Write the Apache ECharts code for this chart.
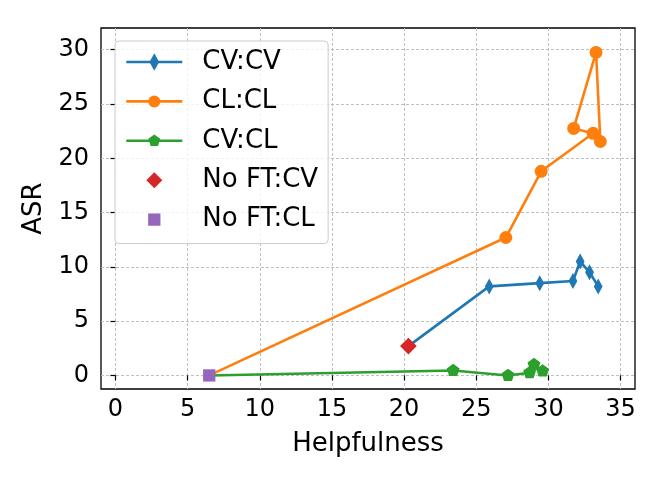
<!DOCTYPE html>
<html><head><meta charset="utf-8">
<script src="https://cdn.jsdelivr.net/npm/echarts@6/dist/echarts.min.js"></script>
<style>html,body{margin:0;padding:0;background:#fff}#c{width:664px;height:483px}</style>
</head><body><div id="c"></div>
<script>
// ---- data ----
const seriesNames = ['CV:CV', 'CL:CL', 'CV:CL', 'No FT:CV', 'No FT:CL'];
const cvcvHelp = [20.3, 25.9, 29.4, 31.7, 32.2, 32.85, 33.45];
const cvcvASR  = [2.7, 8.2, 8.5, 8.7, 10.5, 9.5, 8.2];
const clclHelp = [6.5, 27.05, 29.5, 33.1, 31.75, 33.3, 33.6];
const clclASR  = [0, 12.7, 18.8, 22.3, 22.75, 29.75, 21.55];
const cvclHelp = [6.5, 23.4, 27.2, 28.7, 29.0, 29.6];
const cvclASR  = [0, 0.45, 0, 0.25, 1.0, 0.4];
const noftCvHelp = [20.3];
const noftCvASR  = [2.7];
const noftClHelp = [6.5];
const noftClASR  = [0];
const xTickValues = [0, 5, 10, 15, 20, 25, 30, 35];
const yTickValues = [0, 5, 10, 15, 20, 25, 30];
const xName = 'Helpfulness';
const yName = 'ASR';

// ---- styling ----
const FONT = 'DejaVu Sans';
const colors = ['#1f77b4', '#ff7f0e', '#2ca02c', '#d62728', '#9467bd'];
const thinDiamond = 'path://M-1,-1M1,1M0,-1L0.55,0L0,1L-0.55,0Z';
const circlePad = 'path://M-1.47,-1.47M1.47,1.47M1,0A1,1,0,1,1,-1,0A1,1,0,1,1,1,0Z';
const pentagonPad = 'path://M-1.4,-1.4M1.4,1.4M0,-1L0.951,-0.309L0.588,0.809L-0.588,0.809L-0.951,-0.309Z';
const diamondPad = 'path://M-1.375,-1.375M1.375,1.375M0,-1L1,0L0,1L-1,0Z';
const squarePad = 'path://M-1.79,-1.79M1.79,1.79M-1,-1L1,-1L1,1L-1,1Z';

function pts(xs, ys, hideFirst) {
  return xs.map((x, i) => (hideFirst && i === 0) ? { value: [x, ys[i]], symbol: 'none' } : [x, ys[i]]);
}

const axisCommon = {
  type: 'value',
  axisLine: { show: false },
  axisTick: { show: true, length: 5, lineStyle: { color: '#000', width: 1.2 } },
  axisLabel: { color: '#000', fontFamily: FONT, fontSize: 24 },
  splitLine: { show: true, lineStyle: { color: '#b8b8b8', width: 0.9, type: [3, 2] } },
  nameLocation: 'middle',
  nameTextStyle: { color: '#000', fontFamily: FONT, fontSize: 26 }
};

const chart = echarts.init(document.getElementById('c'), null, { renderer: 'canvas' });
chart.setOption({
  animation: false,
  backgroundColor: '#fff',
  grid: { left: 101, right: 29, top: 28, bottom: 94, show: true, borderColor: '#000', borderWidth: 1.3, backgroundColor: 'transparent' },
  xAxis: Object.assign({}, axisCommon, {
    min: -1, max: 36, splitNumber: 8,
    name: xName, nameGap: 42,
    axisTick: Object.assign({}, axisCommon.axisTick, { customValues: xTickValues }),
    axisLabel: Object.assign({}, axisCommon.axisLabel, { customValues: xTickValues, margin: 9 })
  }),
  yAxis: Object.assign({}, axisCommon, {
    min: -1.25, max: 32, splitNumber: 7,
    name: yName, nameGap: 51,
    axisTick: Object.assign({}, axisCommon.axisTick, { customValues: yTickValues }),
    axisLabel: Object.assign({}, axisCommon.axisLabel, { customValues: yTickValues, margin: 12 })
  }),
  legend: {
    orient: 'vertical', left: 115, top: 41,
    padding: [8, 10, 11, 10],
    itemWidth: 56, itemHeight: 22, itemGap: 13.4,
    backgroundColor: 'rgba(255,255,255,0.8)', borderColor: '#cccccc', borderWidth: 1, borderRadius: 4,
    symbolKeepAspect: true,
    lineStyle: { width: 2.6 },
    textStyle: { color: '#000', fontFamily: FONT, fontSize: 26, lineHeight: 26, padding: [0, 0, 0, 15] },
    data: seriesNames
  },
  series: [
    { name: seriesNames[0], type: 'line', data: pts(cvcvHelp, cvcvASR, true), color: colors[0],
      symbol: thinDiamond, symbolSize: 16, lineStyle: { width: 2.6 }, itemStyle: { opacity: 1 }, z: 2 },
    { name: seriesNames[1], type: 'line', data: pts(clclHelp, clclASR, true), color: colors[1],
      symbol: circlePad, symbolSize: 19, lineStyle: { width: 2.6 }, itemStyle: { opacity: 1 }, z: 3 },
    { name: seriesNames[2], type: 'line', data: pts(cvclHelp, cvclASR, true), color: colors[2],
      symbol: pentagonPad, symbolSize: 19, lineStyle: { width: 2.6 }, itemStyle: { opacity: 1 }, z: 4 },
    { name: seriesNames[3], type: 'scatter', data: pts(noftCvHelp, noftCvASR, false), color: colors[3],
      symbol: diamondPad, symbolSize: 23, itemStyle: { opacity: 1 }, z: 5 },
    { name: seriesNames[4], type: 'scatter', data: pts(noftClHelp, noftClASR, false), color: colors[4],
      symbol: squarePad, symbolSize: 22, itemStyle: { opacity: 1 }, z: 6 }
  ]
});
</script></body></html>
